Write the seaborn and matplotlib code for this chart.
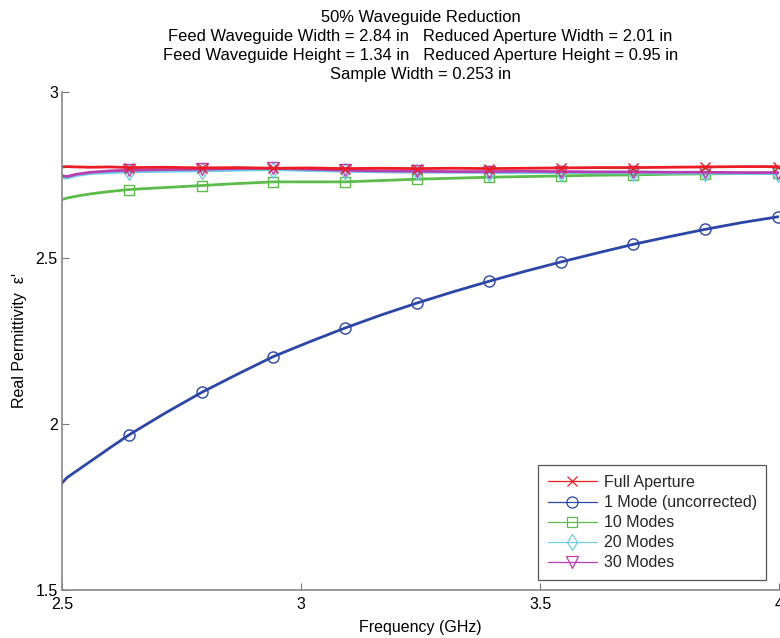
import matplotlib
matplotlib.use("Agg")
import matplotlib.pyplot as plt
import seaborn as sns
import pandas as pd
from matplotlib.lines import Line2D

# Frequency samples (GHz)
freq = [2.5, 2.51, 2.53, 2.56, 2.60, 2.641, 2.716, 2.792, 2.867, 2.942, 3.017,
        3.092, 3.167, 3.242, 3.318, 3.394, 3.469, 3.544, 3.62, 3.695, 3.77,
        3.845, 3.92, 3.998]

# Real permittivity for each aperture model
full_aperture = [2.774, 2.775, 2.774, 2.773, 2.774, 2.772, 2.773, 2.771, 2.772,
                 2.770, 2.771, 2.769, 2.770, 2.769, 2.770, 2.769, 2.770, 2.771,
                 2.772, 2.772, 2.773, 2.774, 2.775, 2.775]
one_mode = [1.822, 1.838, 1.858, 1.888, 1.928, 1.968, 2.033, 2.095, 2.150, 2.203,
            2.247, 2.289, 2.328, 2.364, 2.398, 2.430, 2.460, 2.488, 2.515, 2.541,
            2.564, 2.586, 2.606, 2.624]
ten_modes = [2.676, 2.680, 2.686, 2.693, 2.700, 2.706, 2.712, 2.718, 2.724, 2.729,
             2.729, 2.729, 2.733, 2.737, 2.740, 2.743, 2.745, 2.747, 2.749, 2.750,
             2.752, 2.753, 2.754, 2.755]
twenty_modes = [2.742, 2.740, 2.748, 2.754, 2.757, 2.759, 2.761, 2.762, 2.764,
                2.766, 2.763, 2.761, 2.759, 2.758, 2.758, 2.757, 2.757, 2.757,
                2.756, 2.756, 2.755, 2.755, 2.754, 2.754]
thirty_modes = [2.748, 2.745, 2.752, 2.758, 2.762, 2.764, 2.766, 2.767, 2.769,
                2.770, 2.767, 2.764, 2.762, 2.761, 2.760, 2.760, 2.761, 2.760,
                2.759, 2.759, 2.758, 2.758, 2.757, 2.757]

labels = ["Full Aperture", "1 Mode (uncorrected)", "10 Modes", "20 Modes", "30 Modes"]
series = [full_aperture, one_mode, ten_modes, twenty_modes, thirty_modes]
colors = ["#ec1c24", "#2b46a8", "#5cbc4a", "#6ccfe2", "#b83db2"]
markers = ["x", "o", "s", "d", "v"]
msizes = [7, 8, 7, 8, 8]

x_ticks = [2.5, 3, 3.5, 4]
y_ticks = [1.5, 2, 2.5, 3]

sns.set_theme(style="white")
plt.rcParams["font.family"] = ["Liberation Sans", "DejaVu Sans"]
plt.rcParams["font.size"] = 11.5

fig = plt.figure(figsize=(7.8, 6.38), dpi=100)
ax = fig.add_axes([0.0795, 0.0752, 0.9195, 0.7808])

# 1 Mode and 10 Modes go underneath the tight upper cluster
draw_order = [1, 2, 3, 4, 0]
for i in draw_order:
    df = pd.DataFrame({"f": freq, "eps": series[i]})
    sns.lineplot(data=df, x="f", y="eps", ax=ax, color=colors[i], linewidth=2.0,
                 marker=markers[i], markersize=msizes[i], markerfacecolor="none",
                 markeredgecolor=colors[i], markeredgewidth=1.0,
                 markevery=slice(5, None, 2), sort=False, estimator=None,
                 legend=False)

ax.set_xlim(2.5, 4)
ax.set_ylim(1.5, 3)
ax.set_xticks(x_ticks)
ax.set_xticklabels(["2.5", "3", "3.5", "4"])
ax.set_yticks(y_ticks)
ax.set_yticklabels(["1.5", "2", "2.5", "3"])
ax.tick_params(direction="in", length=5, width=0.8, color="#777777",
               labelsize=11.5, labelcolor="black", left=True, bottom=True)
ax.tick_params(axis="x", pad=5)
ax.tick_params(axis="y", pad=3)

for side in ["top", "right"]:
    ax.spines[side].set_visible(False)
for side in ["left", "bottom"]:
    ax.spines[side].set_color("#888888")
    ax.spines[side].set_linewidth(1.2)

ax.set_xlabel("Frequency (GHz)", fontsize=11.5, color="black", labelpad=6)
ax.set_ylabel("Real Permittivity  \u03b5'", fontsize=11.5, color="black", labelpad=6)

ax.set_title("50% Waveguide Reduction\n"
             "Feed Waveguide Width = 2.84 in   Reduced Aperture Width = 2.01 in\n"
             "Feed Waveguide Height = 1.34 in   Reduced Aperture Height = 0.95 in\n"
             "Sample Width = 0.253 in",
             fontsize=11.9, color="black", linespacing=1.33, pad=9.5)

handles = [Line2D([0], [0], color=c, linewidth=0.9, marker=m, markersize=s,
                  markerfacecolor="none", markeredgecolor=c, markeredgewidth=0.9)
           for c, m, s in zip(colors, markers, msizes)]
leg = ax.legend(handles, labels, loc="lower right", bbox_to_anchor=(0.982, 0.02),
                borderaxespad=0, fontsize=11.5, handlelength=3.1, handletextpad=0.4,
                labelspacing=0.32, borderpad=0.6, fancybox=False, frameon=True,
                framealpha=1)
leg.get_frame().set_edgecolor("#555555")
leg.get_frame().set_linewidth(0.9)

fig.savefig("out.png", dpi=100)
